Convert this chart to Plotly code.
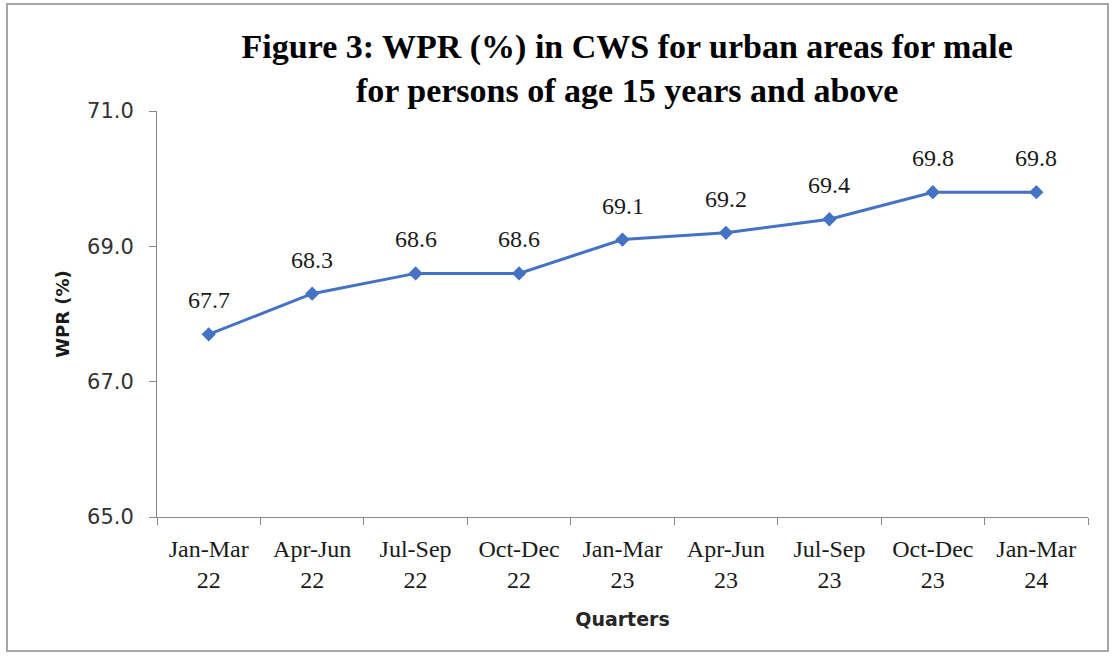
import plotly.graph_objects as go

categories = ["Jan-Mar<br>22", "Apr-Jun<br>22", "Jul-Sep<br>22", "Oct-Dec<br>22",
              "Jan-Mar<br>23", "Apr-Jun<br>23", "Jul-Sep<br>23", "Oct-Dec<br>23",
              "Jan-Mar<br>24"]
wpr = [67.7, 68.3, 68.6, 68.6, 69.1, 69.2, 69.4, 69.8, 69.8]
y_ticks = [65.0, 67.0, 69.0, 71.0]
y_tick_labels = ["65.0", "67.0", "69.0", "71.0"]

serif = "Liberation Serif, Times New Roman, serif"
sans = "DejaVu Sans, Verdana, sans-serif"

fig = go.Figure()
fig.add_trace(go.Scatter(
    x=categories, y=wpr, mode="lines+markers",
    line=dict(color="#4472C4", width=3),
    marker=dict(symbol="diamond", size=11, color="#4472C4"),
    hoverinfo="skip", showlegend=False,
))

for c, v in zip(categories, wpr):
    fig.add_annotation(x=c, y=v, text=f"{v:.1f}", showarrow=False,
                       yshift=34, font=dict(family=serif, size=24, color="#1a1a1a"))

fig.update_layout(
    width=1113, height=656,
    margin=dict(l=157, r=25, t=111, b=139),
    paper_bgcolor="white", plot_bgcolor="white",
    title=dict(
        text="<b>Figure 3: WPR (%) in CWS for urban areas for male<br>for persons of age 15 years and above</b>",
        x=0.5635, xanchor="center", yref="container", y=1 - 58 / 656, yanchor="top",
        font=dict(family=serif, size=34, color="black"),
    ),
    xaxis=dict(
        type="category", tickson="boundaries", ticks="outside", ticklen=7,
        tickcolor="#898989", showline=True, linecolor="#898989", linewidth=1,
        showgrid=False, tickfont=dict(family=serif, size=24, color="#1a1a1a"),
        ticklabelstandoff=10,
        title=dict(text="<b>Quarters</b>", font=dict(family=sans, size=19, color="#262626"), standoff=20),
        range=[-0.5, 8.5],
    ),
    yaxis=dict(
        range=[65, 71], tickvals=y_ticks, ticktext=y_tick_labels,
        ticks="outside", ticklen=7, tickcolor="#898989", showline=True,
        linecolor="#898989", linewidth=1, showgrid=False, zeroline=False,
        tickfont=dict(family=sans, size=21, color="#333333"),
        ticklabelstandoff=11,
        title=dict(text="<b>WPR (%)</b>", font=dict(family=sans, size=18, color="#1a1a1a"), standoff=12),
    ),
)

fig.add_shape(type="rect", xref="paper", yref="paper",
              x0=(7 - 157) / 931, x1=(1108 - 157) / 931,
              y0=(517 - 651) / 406, y1=(517 - 4) / 406,
              line=dict(color="#A6A6A6", width=2), fillcolor="rgba(0,0,0,0)", layer="below")

fig.write_html("out.html", config={"displayModeBar": False},
               post_script="document.body.style.margin='0';")
